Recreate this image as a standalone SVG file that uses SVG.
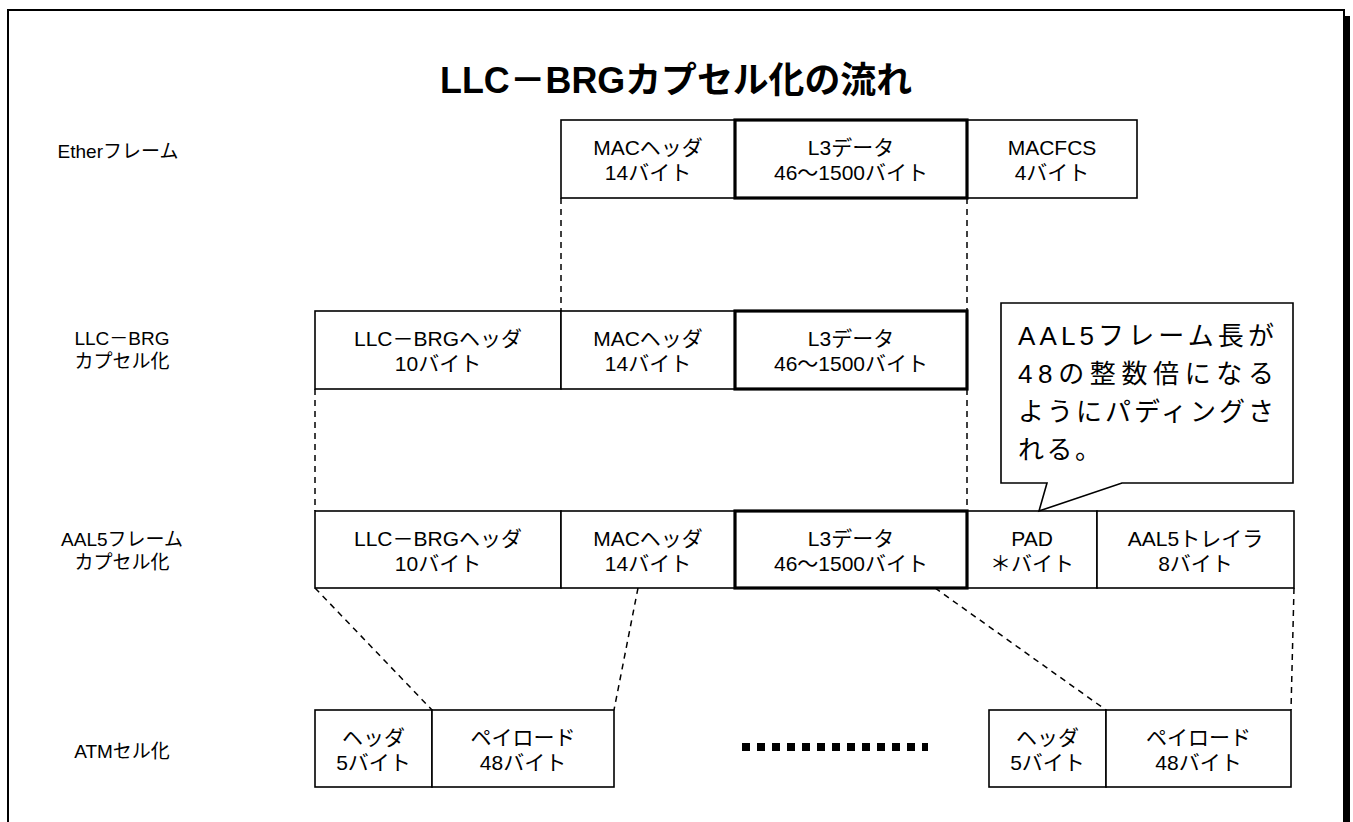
<svg xmlns="http://www.w3.org/2000/svg" width="1353" height="822" viewBox="0 0 1353 822">
<style>
text{font-family:"Liberation Sans","Noto Sans CJK JP",sans-serif;fill:#000}
.t{font-size:21px;text-anchor:middle}
.lab{font-size:19px;text-anchor:middle}
.title{font-size:36px;font-weight:bold;text-anchor:middle}
.call{font-size:26px}
.b{fill:#fff;stroke:#000;stroke-width:1.6}
.bt{fill:#fff;stroke:#000;stroke-width:3.2}
.d{fill:none;stroke:#000;stroke-width:1.5;stroke-dasharray:6 5}
</style>
<rect x="14" y="16" width="1336" height="830" fill="#000"/>
<rect x="8" y="10" width="1336" height="830" fill="#fff" stroke="#000" stroke-width="2"/>
<text class="title" x="676" y="93" textLength="472" lengthAdjust="spacingAndGlyphs">LLC－BRGカプセル化の流れ</text>
<g id="labels">
<text class="lab" x="118" y="158">Etherフレーム</text>
<text class="lab" x="122" y="345">LLC－BRG</text>
<text class="lab" x="122" y="368">カプセル化</text>
<text class="lab" x="122" y="546">AAL5フレーム</text>
<text class="lab" x="122" y="569">カプセル化</text>
<text class="lab" x="122" y="758">ATMセル化</text>
</g>
<g id="connectors">
<line class="d" x1="561" y1="198" x2="561" y2="311"/>
<line class="d" x1="967" y1="198" x2="967" y2="311"/>
<line class="d" x1="315" y1="389" x2="315" y2="511"/>
<line class="d" x1="967" y1="389" x2="967" y2="511"/>
<line class="d" x1="315" y1="588" x2="432" y2="710"/>
<line class="d" x1="638" y1="588" x2="614" y2="710"/>
<line class="d" x1="935" y1="588" x2="1106" y2="710"/>
<line class="d" x1="1294" y1="588" x2="1291" y2="710"/>
</g>
<g id="row1">
<g id="r1-mac"><rect class="b" x="561" y="120" width="174" height="78"/><text class="t" x="648" y="155">MACヘッダ</text><text class="t" x="648" y="180">14バイト</text></g>
<g id="r1-fcs"><rect class="b" x="967" y="120" width="170" height="78"/><text class="t" x="1052" y="155">MACFCS</text><text class="t" x="1052" y="180">4バイト</text></g>
<g id="r1-l3"><rect class="bt" x="735" y="120" width="232" height="78"/><text class="t" x="851" y="155">L3データ</text><text class="t" x="851" y="180">46～1500バイト</text></g>
</g>
<g id="row2">
<g id="r2-llc"><rect class="b" x="315" y="311" width="246" height="78"/><text class="t" x="438" y="346">LLC－BRGヘッダ</text><text class="t" x="438" y="371">10バイト</text></g>
<g id="r2-mac"><rect class="b" x="561" y="311" width="174" height="78"/><text class="t" x="648" y="346">MACヘッダ</text><text class="t" x="648" y="371">14バイト</text></g>
<g id="r2-l3"><rect class="bt" x="735" y="311" width="232" height="78"/><text class="t" x="851" y="346">L3データ</text><text class="t" x="851" y="371">46～1500バイト</text></g>
</g>
<g id="row3">
<g id="r3-llc"><rect class="b" x="315" y="511" width="246" height="77"/><text class="t" x="438" y="546">LLC－BRGヘッダ</text><text class="t" x="438" y="571">10バイト</text></g>
<g id="r3-mac"><rect class="b" x="561" y="511" width="174" height="77"/><text class="t" x="648" y="546">MACヘッダ</text><text class="t" x="648" y="571">14バイト</text></g>
<g id="r3-pad"><rect class="b" x="967" y="511" width="130" height="77"/><text class="t" x="1032" y="546">PAD</text><text class="t" x="1032" y="571">＊バイト</text></g>
<g id="r3-trl"><rect class="b" x="1097" y="511" width="197" height="77"/><text class="t" x="1195.5" y="546">AAL5トレイラ</text><text class="t" x="1195.5" y="571">8バイト</text></g>
<g id="r3-l3"><rect class="bt" x="735" y="511" width="232" height="77"/><text class="t" x="851" y="546">L3データ</text><text class="t" x="851" y="571">46～1500バイト</text></g>
</g>
<g id="row4">
<g id="r4-h1"><rect class="b" x="315" y="710" width="117" height="77"/><text class="t" x="373.5" y="745">ヘッダ</text><text class="t" x="373.5" y="770">5バイト</text></g>
<g id="r4-p1"><rect class="b" x="432" y="710" width="182" height="77"/><text class="t" x="523" y="745">ペイロード</text><text class="t" x="523" y="770">48バイト</text></g>
<g id="r4-h2"><rect class="b" x="989" y="710" width="117" height="77"/><text class="t" x="1047.5" y="745">ヘッダ</text><text class="t" x="1047.5" y="770">5バイト</text></g>
<g id="r4-p2"><rect class="b" x="1106" y="710" width="185" height="77"/><text class="t" x="1198.5" y="745">ペイロード</text><text class="t" x="1198.5" y="770">48バイト</text></g>
<line id="ellipsis" x1="742" y1="747" x2="928" y2="747" stroke="#000" stroke-width="8" stroke-dasharray="8 7"/>
</g>
<g id="callout">
<path d="M1001,303 H1293 V483 H1122 L1039,511 L1047,483 H1001 Z" fill="#fff" stroke="#000" stroke-width="1.6"/>
<text class="call" x="1018" y="345" textLength="256" lengthAdjust="spacing">AAL5フレーム長が</text>
<text class="call" x="1018" y="383" textLength="256" lengthAdjust="spacing">48の整数倍になる</text>
<text class="call" x="1018" y="421" textLength="256" lengthAdjust="spacing">ようにパディングさ</text>
<text class="call" x="1018" y="459" letter-spacing="2.5">れる。</text>
</g>
</svg>
